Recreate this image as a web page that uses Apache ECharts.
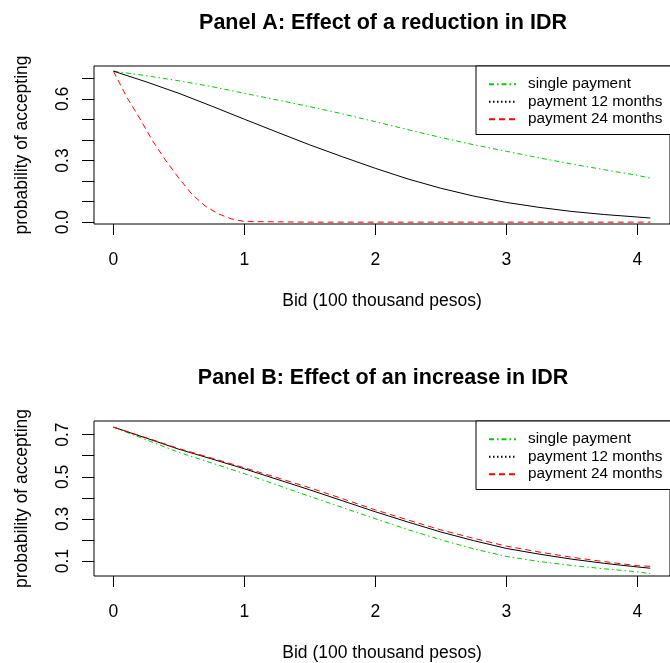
<!DOCTYPE html>
<html>
<head>
<meta charset="utf-8">
<script src="https://cdn.jsdelivr.net/npm/echarts@6/dist/echarts.min.js"></script>
<style>
  html, body { margin: 0; padding: 0; background: #fff; }
  #chart { width: 670px; height: 663px; }
</style>
</head>
<body>
<div id="chart"></div>
<script>
// bid values (100 thousand pesos)
const bid = [0, 0.25, 0.5, 0.75, 1, 1.25, 1.5, 1.75, 2, 2.25, 2.5, 2.75, 3, 3.25, 3.5, 3.75, 4, 4.1]
const bidFine = [0, 0.1, 0.2, 0.3, 0.4, 0.5, 0.6, 0.7, 0.8, 0.9, 1, 1.5, 2, 2.5, 3, 3.5, 4, 4.1]

// Panel A: reduction in IDR
const singleA = [0.735, 0.713, 0.688, 0.66, 0.627, 0.595, 0.562, 0.527, 0.489, 0.45, 0.412, 0.377, 0.345, 0.313, 0.283, 0.255, 0.228, 0.214]
const month12A = [0.735, 0.683, 0.627, 0.565, 0.501, 0.438, 0.376, 0.318, 0.262, 0.21, 0.165, 0.127, 0.096, 0.072, 0.052, 0.037, 0.025, 0.02]
const month24A = [0.735, 0.611, 0.506, 0.395, 0.3, 0.214, 0.136, 0.079, 0.041, 0.016, 0.003, 0, 0, 0, 0, 0, 0, 0]

// Panel B: increase in IDR
const singleB = [0.736, 0.676, 0.616, 0.566, 0.515, 0.461, 0.407, 0.354, 0.301, 0.249, 0.201, 0.158, 0.122, 0.098, 0.079, 0.063, 0.049, 0.04]
const month12B = [0.736, 0.684, 0.631, 0.585, 0.538, 0.488, 0.438, 0.386, 0.334, 0.285, 0.238, 0.197, 0.16, 0.133, 0.109, 0.089, 0.072, 0.066]
const month24B = [0.736, 0.686, 0.634, 0.589, 0.543, 0.496, 0.448, 0.396, 0.343, 0.295, 0.248, 0.208, 0.171, 0.143, 0.118, 0.097, 0.078, 0.075]

const seriesNames = ['single payment', 'payment 12 months', 'payment 24 months']
const xTicks = [0, 1, 2, 3, 4]
const yTicksA = [0, 0.1, 0.2, 0.3, 0.4, 0.5, 0.6, 0.7]
const yLabelsA = [0, 0.3, 0.6]
const yTicksB = [0.1, 0.2, 0.3, 0.4, 0.5, 0.6, 0.7]
const yLabelsB = [0.1, 0.3, 0.5, 0.7]

const FONT = 'Liberation Sans, Arial, sans-serif'
const GREEN = '#00cc00'
const RED = '#ff0000'
const DOTDASH = [5, 3, 1.5, 3]
const DOTTED = [1.5, 2.5]
const DASHED = [6, 4]

const pairs = (xs, ys) => xs.map((x, i) => [x, ys[i]])

const chart = echarts.init(document.getElementById('chart'), null, { renderer: 'canvas' })

const xAxisFor = (gridIndex) => ({
  type: 'value',
  gridIndex: gridIndex,
  min: -0.148,
  max: 4.25,
  name: 'Bid (100 thousand pesos)',
  nameLocation: 'middle',
  nameGap: 68,
  nameTextStyle: { fontFamily: FONT, fontSize: 17.5, color: '#000' },
  axisLine: { show: false, onZero: false },
  splitLine: { show: false },
  axisTick: { show: true, inside: false, length: 11, customValues: xTicks, lineStyle: { color: '#000' } },
  axisLabel: { customValues: xTicks, margin: 27, fontFamily: FONT, fontSize: 17.5, color: '#000' },
})

const yAxisFor = (gridIndex, min, max, ticks, labels) => ({
  type: 'value',
  gridIndex: gridIndex,
  min: min,
  max: max,
  name: 'probability of accepting',
  nameLocation: 'middle',
  nameGap: 63,
  nameTextStyle: { fontFamily: FONT, fontSize: 17.5, color: '#000' },
  axisLine: { show: false, onZero: false },
  splitLine: { show: false },
  axisTick: { show: true, inside: false, length: 12, customValues: ticks, lineStyle: { color: '#000' } },
  axisLabel: {
    customValues: labels,
    rotate: 90,
    margin: 22,
    fontFamily: FONT,
    fontSize: 17.5,
    color: '#000',
    formatter: (v) => v.toFixed(1),
  },
})

const lineSeries = (name, data, idx, color, type) => ({
  name: name,
  type: 'line',
  xAxisIndex: idx,
  yAxisIndex: idx,
  data: data,
  symbol: 'none',
  lineStyle: { color: color, width: 1, type: type },
  itemStyle: { color: color },
})

const legendFor = (top) => ({
  orient: 'vertical',
  left: 476,
  top: top,
  padding: [10, 20, 7, 12],
  borderColor: '#000',
  borderWidth: 1,
  backgroundColor: '#fff',
  itemWidth: 27,
  itemHeight: 10,
  itemGap: 1,
  selectedMode: false,
  itemStyle: { opacity: 0 },
  textStyle: { fontFamily: FONT, fontSize: 15.3, lineHeight: 16.5, color: '#000', padding: [0, 0, 0, 7] },
  data: [
    { name: seriesNames[0], lineStyle: { color: GREEN, type: DOTDASH } },
    { name: seriesNames[1], lineStyle: { color: '#000', type: DOTTED } },
    { name: seriesNames[2], lineStyle: { color: RED, type: DASHED } },
  ],
})

const option = {
  animation: false,
  backgroundColor: '#fff',
  title: [
    {
      text: 'Panel A: Effect of a reduction in IDR',
      left: 383,
      top: 12,
      padding: 0,
      textAlign: 'center',
      textStyle: { fontFamily: FONT, fontSize: 21.5, fontWeight: 'bold', color: '#000' },
    },
    {
      text: 'Panel B: Effect of an increase in IDR',
      left: 383,
      top: 367,
      padding: 0,
      textAlign: 'center',
      textStyle: { fontFamily: FONT, fontSize: 21.5, fontWeight: 'bold', color: '#000' },
    },
  ],
  legend: [legendFor(66), legendFor(421)],
  grid: [
    { left: 94, top: 66, width: 578, height: 158, show: true, borderColor: '#000', borderWidth: 1, backgroundColor: 'transparent' },
    { left: 94, top: 421, width: 578, height: 159, show: true, borderColor: '#000', borderWidth: 1, backgroundColor: 'transparent' },
  ],
  xAxis: [xAxisFor(0), xAxisFor(1)],
  yAxis: [
    yAxisFor(0, -0.009, 0.76, yTicksA, yLabelsA),
    yAxisFor(1, 0.029, 0.765, yTicksB, yLabelsB),
  ],
  series: [
    lineSeries(seriesNames[0], pairs(bid, singleA), 0, GREEN, DOTDASH),
    lineSeries(seriesNames[1], pairs(bid, month12A), 0, '#000', 'solid'),
    lineSeries(seriesNames[2], pairs(bidFine, month24A), 0, RED, DASHED),
    lineSeries(seriesNames[0], pairs(bid, singleB), 1, GREEN, DOTDASH),
    lineSeries(seriesNames[1], pairs(bid, month12B), 1, '#000', 'solid'),
    lineSeries(seriesNames[2], pairs(bid, month24B), 1, RED, DASHED),
  ],
}

chart.setOption(option)
</script>
</body>
</html>
